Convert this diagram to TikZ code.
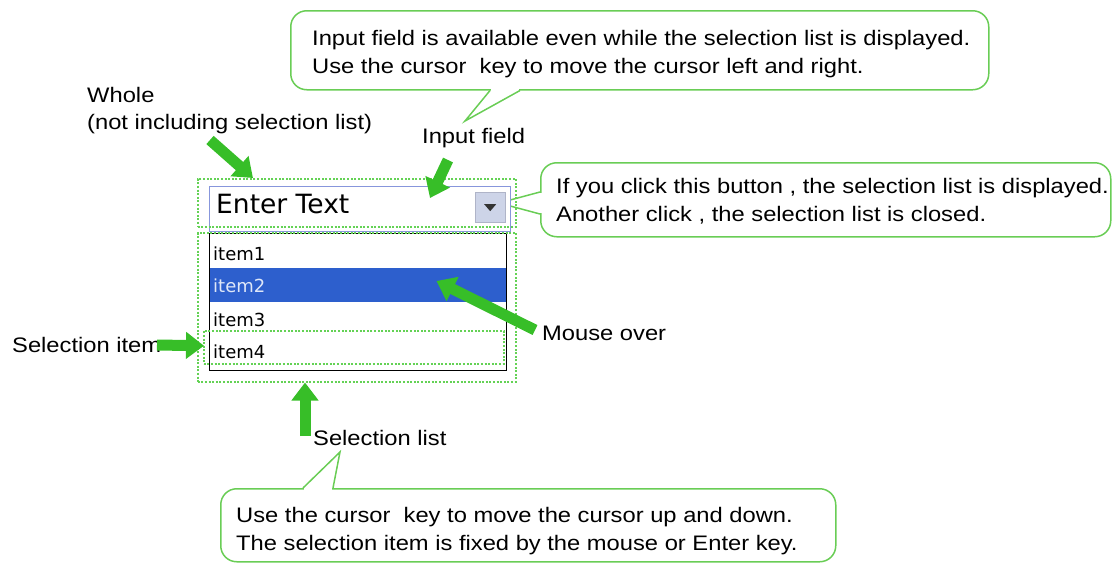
\documentclass[tikz,border=0pt]{standalone}
\usepackage{fontspec}
\setmainfont{Liberation Sans}[FakeStretch=1.13]
\newfontfamily\uifont{DejaVu Sans}
\usepackage{xcolor}
\usetikzlibrary{arrows.meta,positioning,calc}
\definecolor{notegreen}{RGB}{105,205,85}
\definecolor{arrowgreen}{RGB}{55,190,40}
\definecolor{framegreen}{RGB}{100,210,85}
\definecolor{fieldblue}{RGB}{135,150,220}
\definecolor{hiblue}{RGB}{45,95,205}
\definecolor{btngray}{RGB}{205,212,232}
\definecolor{btnedge}{RGB}{175,180,200}

\begin{document}
\begin{tikzpicture}[x=1pt,y=-1pt,
  lbl/.style={inner sep=0pt,font=\fontsize{21}{27}\selectfont},
  notetext/.style={inner sep=0pt,align=left,anchor=north west,font=\fontsize{21}{28}\selectfont},
  notebox/.style={draw=notegreen,line width=1.5pt,rounded corners=16pt,fill=white,inner sep=0pt,anchor=north west},
  noteline/.style={draw=notegreen,line width=1.5pt},
  frame/.style={draw=framegreen,line width=1.5pt,dash pattern=on 2pt off 1.6pt,inner sep=0pt,anchor=north west},
  bigarrow/.style={draw=arrowgreen,line width=11pt,-{Triangle[width=26pt,length=18pt]}},
  itemtext/.style={inner sep=0pt,anchor=base west,font=\uifont\fontsize{18}{18}\selectfont}]
\useasboundingbox (0,0) rectangle (1119,563);

\node[notebox,minimum width=698pt,minimum height=79pt] (fieldnote) at (290,10) {};
\coordinate (fieldtip) at (465,121);
\fill[white] ($(fieldnote.south west)+(201,-2)$) rectangle ($(fieldnote.south west)+(229,1.5)$);
\draw[noteline] ($(fieldnote.south west)+(200,0)$) -- (fieldtip) -- ($(fieldnote.south west)+(230,0)$);
\node[notetext] (fieldnotetext) at (312,29.6) {Input field is available even while the selection list is displayed.\\Use the cursor\ \ key to move the cursor left and right.};

\node[notebox,minimum width=570pt,minimum height=74pt] (buttonnote) at (540,162) {};
\coordinate (buttontip) at (499,203);
\fill[white] ($(buttonnote.north west)+(-1.5,31)$) rectangle ($(buttonnote.north west)+(2,51)$);
\draw[noteline] ($(buttonnote.north west)+(0,30)$) -- (buttontip) -- ($(buttonnote.north west)+(0,52)$);
\node[notetext] (buttonnotetext) at (556,177.7) {If you click this button , the selection list is displayed.\\Another click , the selection list is closed.};

\node[notebox,minimum width=615pt,minimum height=73pt] (listnote) at (220,488) {};
\coordinate (listtip) at (340,452);
\fill[white] ($(listnote.north west)+(84,-1.5)$) rectangle ($(listnote.north west)+(112,2)$);
\draw[noteline] ($(listnote.north west)+(83,0)$) -- (listtip) -- ($(listnote.north west)+(113,0)$);
\node[notetext] (listnotetext) at (236,506.7) {Use the cursor\ \ key to move the cursor up and down.\\The selection item is fixed by the mouse or Enter key.};

\node[draw=fieldblue,line width=0.8pt,fill=white,minimum width=301pt,minimum height=45pt,inner sep=0pt,anchor=north west] (field) at (209,186) {};
\node[anchor=base west,inner sep=0pt,font=\uifont\fontsize{26.5}{26.5}\selectfont] (entertext) at (216,213) {Enter Text};
\node[draw=btnedge,fill=btngray,minimum size=30pt,inner sep=0pt,anchor=north west] (button) at (475,192) {};
\fill[black!80] ($(button.center)+(-6,-3)$) -- ($(button.center)+(6,-3)$) -- ($(button.center)+(0,4)$) -- cycle;

\node[draw=black,line width=1.3pt,fill=white,minimum width=297pt,minimum height=137pt,inner sep=0pt,anchor=north west] (list) at (209,233) {};
\node[fill=hiblue,minimum width=296pt,minimum height=34pt,inner sep=0pt,anchor=north west] (hover) at (209.5,268) {};
\node[itemtext] (item1) at (213,260) {item1};
\node[itemtext,text=white!85!hiblue] (item2) at (213,292) {item2};
\node[itemtext] (item3) at (213,326) {item3};
\node[itemtext] (item4) at (213,358) {item4};

\node[frame,minimum width=318pt,minimum height=48pt] (whole) at (197,178) {};
\node[frame,minimum width=318pt,minimum height=149pt] (sellist) at (197,232) {};
\node[frame,minimum width=300pt,minimum height=33pt] (selitem) at (203,330) {};

\node[lbl,anchor=north west,align=left] (wholelbl) at (87,87) {Whole\\(not including selection list)};
\node[lbl,anchor=base west] (fieldlbl) at (422,143) {Input field};
\node[lbl,anchor=base west] (overlbl) at (542,340) {Mouse over};
\node[lbl,anchor=base west] (itemlbl) at (12,352) {Selection item};
\node[lbl,anchor=base west] (listlbl) at (313,445) {Selection list};

\coordinate (wholefrom) at (210,140);
\coordinate (fieldfrom) at (448,160);
\coordinate (overfrom) at (535,330);
\coordinate (itemfrom) at (157,345);
\coordinate (listfrom) at (305,436);
\draw[bigarrow] (wholefrom) -- ($(whole.north west)+(56,0)$);
\draw[bigarrow] (fieldfrom) -- ($(field.north west)+(221,12)$);
\draw[bigarrow] (overfrom) -- ($(hover.north west)+(227,13)$);
\draw[bigarrow] (itemfrom) -- ($(selitem.west)+(1,-1.5)$);
\draw[bigarrow] (listfrom) -- ($(sellist.south west)+(108,0)$);
\end{tikzpicture}
\end{document}
